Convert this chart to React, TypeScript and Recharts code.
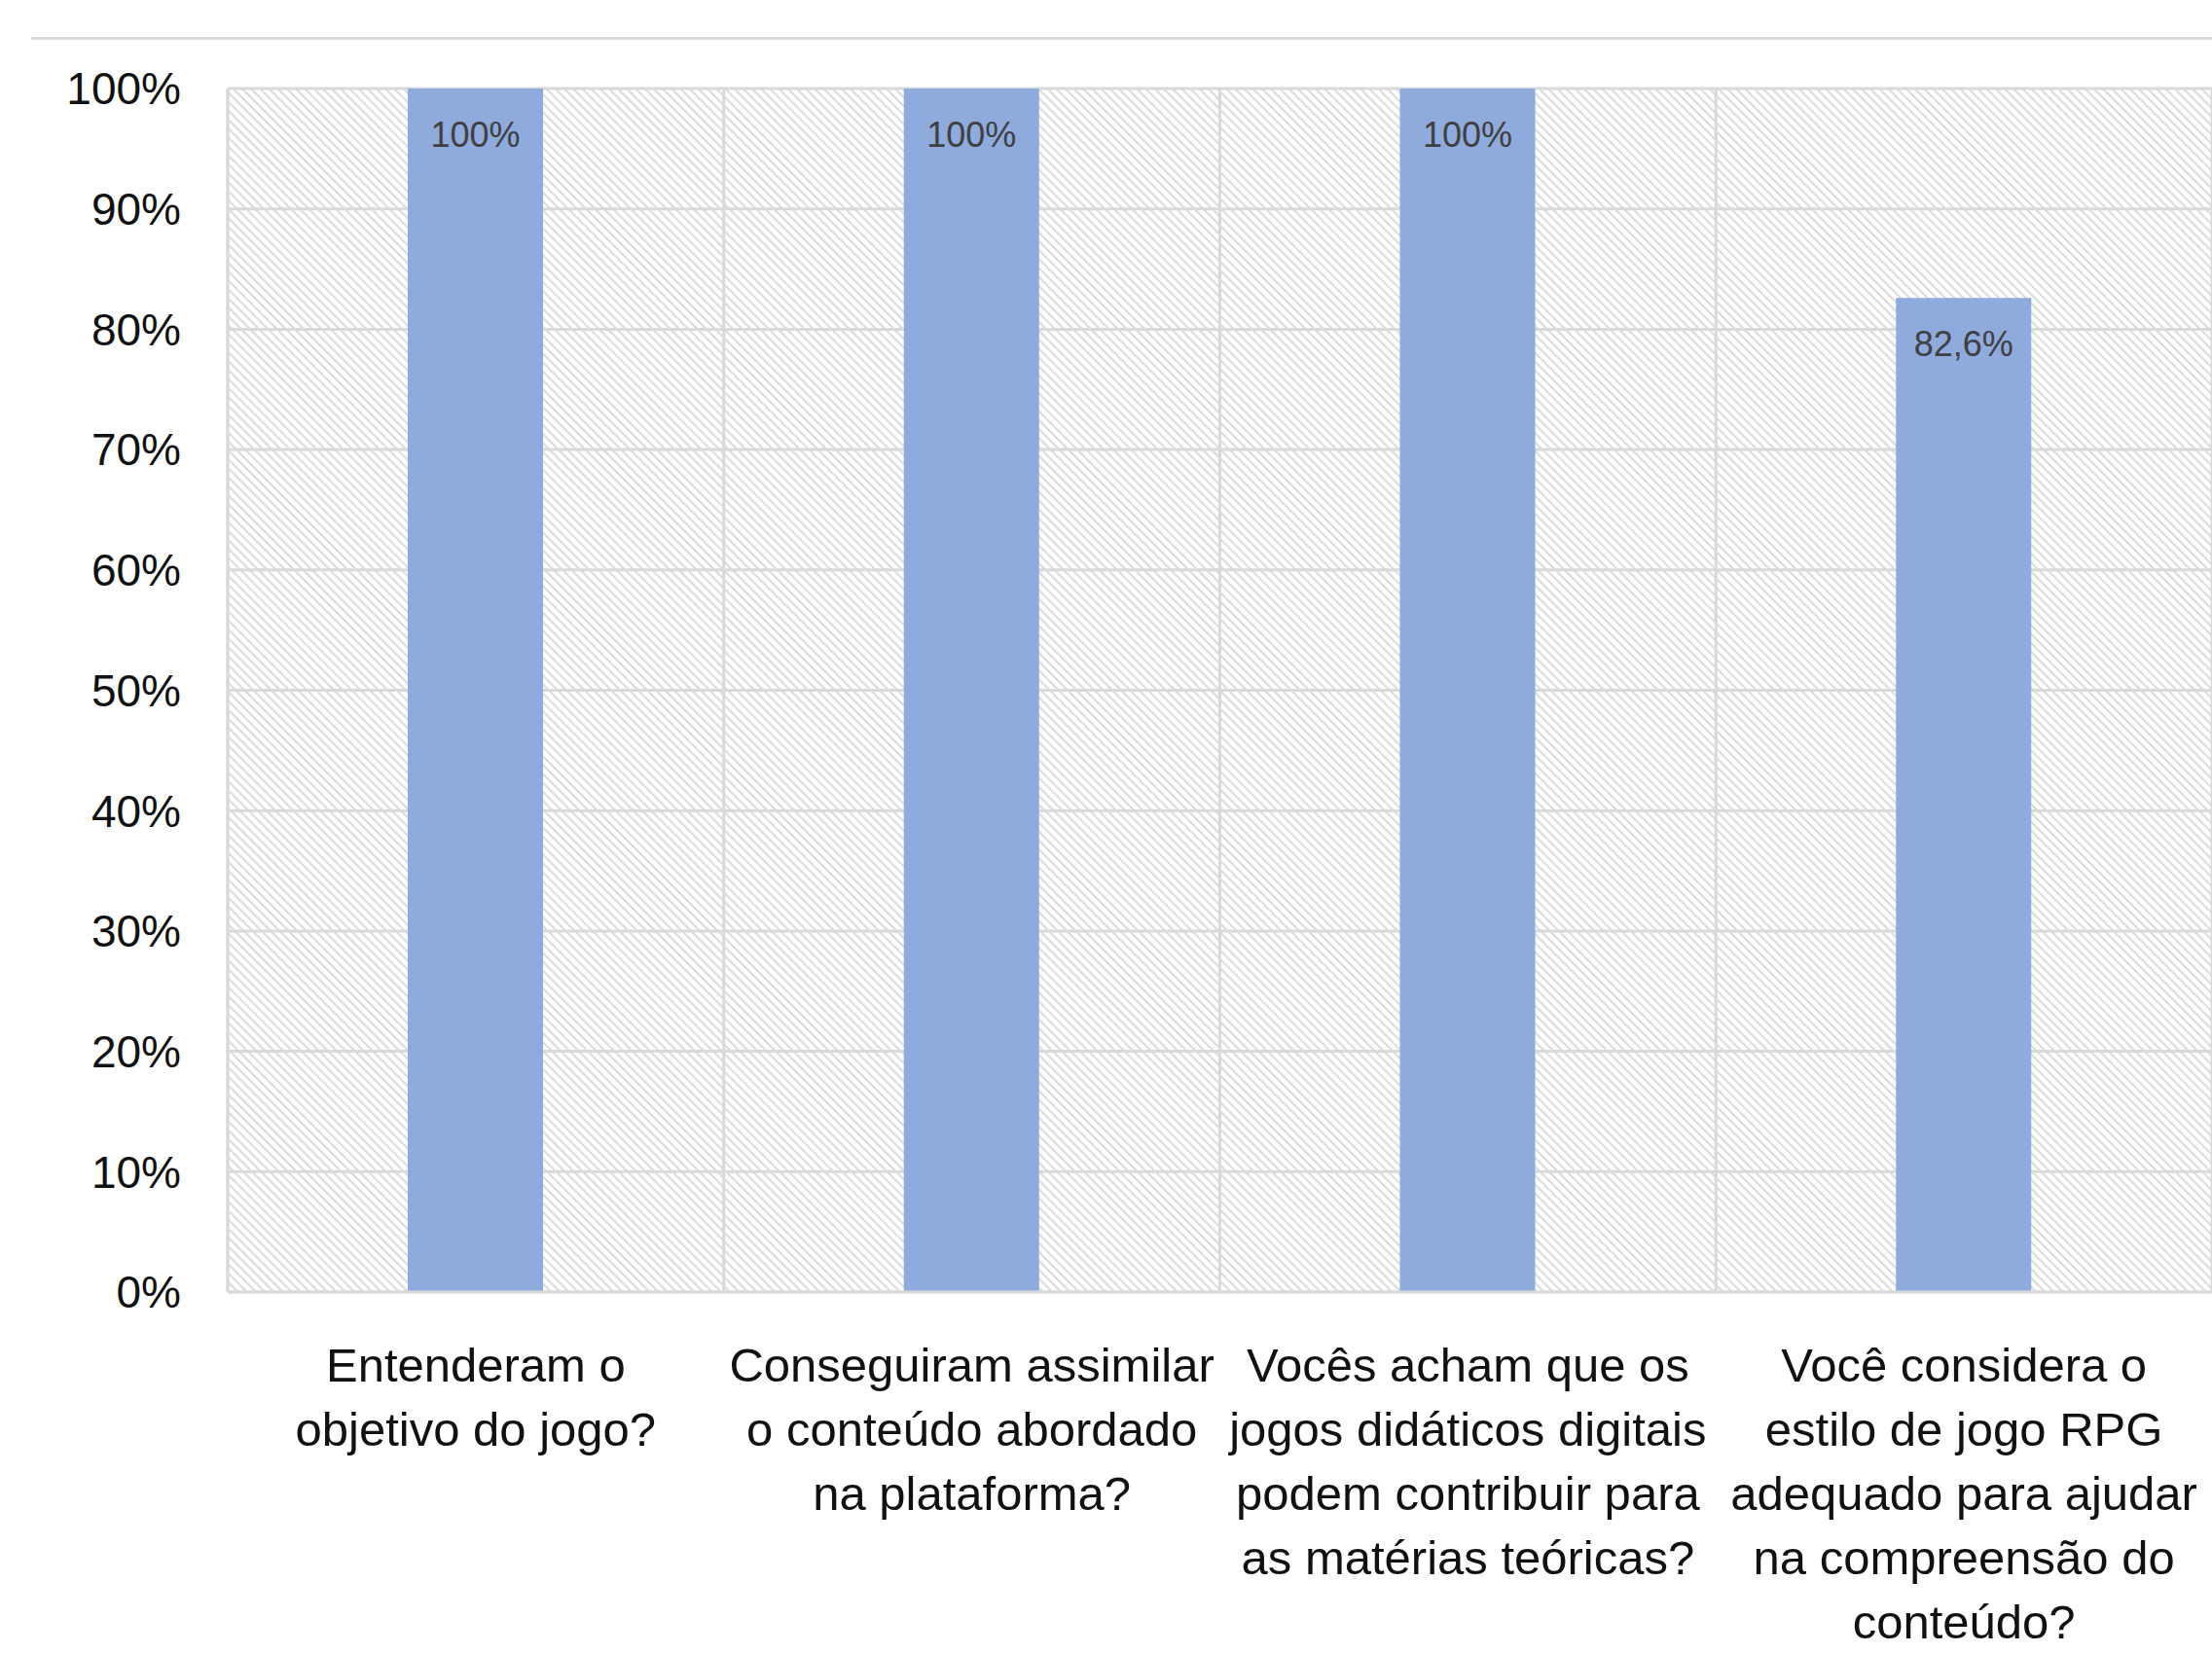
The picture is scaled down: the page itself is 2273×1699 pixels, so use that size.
import React from "react";
import {
  Bar,
  BarChart,
  CartesianGrid,
  LabelList,
  XAxis,
  YAxis,
} from "recharts";

const questions = [
  "Entenderam o\nobjetivo do jogo?",
  "Conseguiram assimilar\no conteúdo abordado\nna plataforma?",
  "Vocês acham que os\njogos didáticos digitais\npodem contribuir para\nas matérias teóricas?",
  "Você considera o\nestilo de jogo RPG\nadequado para ajudar\nna compreensão do\nconteúdo?",
];
const shares = [1, 1, 1, 0.826];
const yTicks = [0, 0.1, 0.2, 0.3, 0.4, 0.5, 0.6, 0.7, 0.8, 0.9, 1];

const data = questions.map((q, i) => ({ question: q, value: shares[i] }));

const FONT = '"Liberation Sans", Arial, sans-serif';
const GRID = "#d9d9d9";

const pct = (v: number) =>
  Number.isInteger(v * 100)
    ? `${Math.round(v * 100)}%`
    : `${(v * 100).toFixed(1).replace(".", ",")}%`;

const QuestionTick = (props: any) => {
  const { x, y, payload } = props;
  const lines = String(payload.value).split("\n");
  return (
    <text
      x={x}
      y={y}
      textAnchor="middle"
      fontSize={49}
      fontFamily={FONT}
      fill="#111"
    >
      {lines.map((line, i) => (
        <tspan key={i} x={x} dy={i === 0 ? 92 : 66}>
          {line}
        </tspan>
      ))}
    </text>
  );
};

export default function App() {
  return (
    <div style={{ position: "absolute", left: 0, top: 0, width: 2273, height: 1699 }}>
      <svg width={0} height={0} style={{ position: "absolute" }}>
        <defs>
          <pattern
            id="hatch"
            patternUnits="userSpaceOnUse"
            width={6.5}
            height={6.5}
            patternTransform="rotate(-45)"
          >
            <rect width={6.5} height={6.5} fill="#fff" />
            <rect width={2} height={6.5} fill="#dadada" />
          </pattern>
        </defs>
      </svg>
      <div
        style={{
          position: "absolute",
          left: 32,
          top: 38,
          width: 2241,
          height: 3,
          background: GRID,
        }}
      />
      <BarChart
        width={2273}
        height={1699}
        data={data}
        margin={{ top: 91, right: 0, left: 2, bottom: 0 }}
      >
        <CartesianGrid
          stroke={GRID}
          strokeWidth={3}
          fill="url(#hatch)"
          fillOpacity={1}
          verticalCoordinatesGenerator={({ offset }: any) =>
            questions
              .map((_, i) => offset.left + (i * offset.width) / questions.length)
              .concat(offset.left + offset.width)
          }
        />
        <XAxis
          dataKey="question"
          interval={0}
          height={371}
          tickLine={false}
          tickSize={0}
          tickMargin={0}
          axisLine={{ stroke: GRID, strokeWidth: 3 }}
          tick={<QuestionTick />}
        />
        <YAxis
          width={232}
          domain={[0, 1]}
          ticks={yTicks}
          tickFormatter={pct}
          tickLine={false}
          tickSize={0}
          tickMargin={48}
          axisLine={{ stroke: GRID, strokeWidth: 3 }}
          tick={{ fontSize: 46, fontFamily: FONT, fill: "#111" }}
        />
        <Bar dataKey="value" fill="#8FAADC" barSize={139} isAnimationActive={false}>
          <LabelList
            dataKey="value"
            position="insideTop"
            offset={34}
            formatter={(v: any) => pct(Number(v))}
            style={{ fontSize: 36, fontFamily: FONT, fill: "#404040" }}
          />
        </Bar>
      </BarChart>
    </div>
  );
}
